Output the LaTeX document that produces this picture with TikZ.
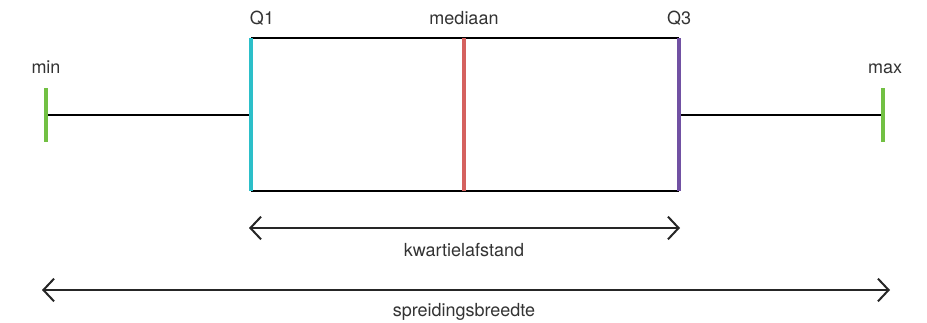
\documentclass[tikz,border=0pt]{standalone}
\usepackage{fontspec}
\setmainfont{TeX Gyre Heros}
\usetikzlibrary{arrows.meta}
\definecolor{bpgreen}{HTML}{72C043}
\definecolor{bpcyan}{HTML}{2CBFC9}
\definecolor{bpred}{HTML}{D5615F}
\definecolor{bppurple}{HTML}{7151A3}
\definecolor{bptext}{HTML}{333333}
\tikzset{
  lbl/.style={anchor=base, text=bptext, font=\fontsize{13.5}{16}\selectfont, inner sep=0pt},
  tick/.style={line width=3.6pt},
  boxline/.style={line width=1.1pt, black},
  span/.style={{Straight Barb[length=8pt,width=17pt,line width=1.5pt]}-{Straight Barb[length=8pt,width=17pt,line width=1.5pt]}, line width=1.6pt, black!85}
}
\begin{document}
\begin{tikzpicture}[x=0.75pt,y=-0.75pt]
            \useasboundingbox (0,0) rectangle (927,322);
            % box corners and whisker ends
            \coordinate (q1t) at (251,38);
            \coordinate (q1b) at (251,191);
            \coordinate (q3t) at (679,38);
            \coordinate (q3b) at (679,191);
            \coordinate (medt) at (464,38);
            \coordinate (medb) at (464,191);
            \coordinate (mint) at (46,88);
            \coordinate (minb) at (46,142);
            \coordinate (maxt) at (883,88);
            \coordinate (maxb) at (883,142);
            \coordinate (minm) at (46,115);
            \coordinate (maxm) at (883,115);
            \coordinate (q1m) at (251,115);
            \coordinate (q3m) at (679,115);
            \coordinate (iqrl) at (249,228);
            \coordinate (iqrr) at (680,228);
            \coordinate (rngl) at (42,290);
            \coordinate (rngr) at (890,290);
            % labels
            \node[lbl] (minlbl) at (46,73) {min};
            \node[lbl] (q1lbl) at (262,24) {Q1};
            \node[lbl] (medlbl) at (464,24) {mediaan};
            \node[lbl] (q3lbl) at (679,24) {Q3};
            \node[lbl] (maxlbl) at (885,73) {max};
            \node[lbl] (iqrlbl) at (464,256) {kwartielafstand};
            \node[lbl] (rnglbl) at (464,316) {spreidingsbreedte};
            % box and whiskers
            \draw[boxline] (q1t) -- (q3t);
            \draw[boxline] (q1b) -- (q3b);
            \draw[boxline] (minm) -- (q1m);
            \draw[boxline] (q3m) -- (maxm);
            \draw[tick, bpcyan] (q1t) -- (q1b);
            \draw[tick, bpred] (medt) -- (medb);
            \draw[tick, bppurple] (q3t) -- (q3b);
            \draw[tick, bpgreen] (mint) -- (minb);
            \draw[tick, bpgreen] (maxt) -- (maxb);
            % spans
            \draw[span] (iqrl) -- (iqrr);
            \draw[span] (rngl) -- (rngr);
        \end{tikzpicture}
\end{document}
